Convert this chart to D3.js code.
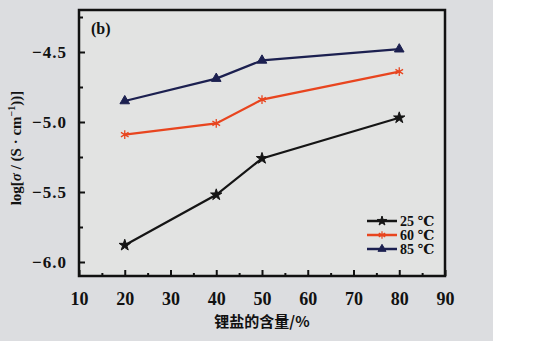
<!DOCTYPE html>
<html>
<head>
<meta charset="utf-8">
<script src="https://cdn.jsdelivr.net/npm/d3@7"></script>
<style>
	body { margin: 0; background: #fff; }
	text { font-family: "Liberation Serif", "DejaVu Serif", serif; font-weight: bold; fill: #111; }
	.cjk { font-family: "Noto Sans CJK SC", sans-serif; font-weight: bold; }
</style>
</head>
<body>
<div id="chart"></div>
<script>
const contents = [20, 40, 50, 80];
const temps = ["25 ℃", "60 ℃", "85 ℃"];
const cond25 = [-5.88, -5.52, -5.26, -4.97];
const cond60 = [-5.09, -5.01, -4.84, -4.64];
const cond85 = [-4.85, -4.69, -4.56, -4.48];
const xTicks = [10, 20, 30, 40, 50, 60, 70, 80, 90];
const yTicks = [-6.0, -5.5, -5.0, -4.5];

const width = 538, height = 360;
const svg = d3.select("#chart")
	.append("svg")
	.attr("width", width)
	.attr("height", height);

// scanned page background
svg.append("rect").attr("width", 493).attr("height", 341).attr("fill", "#dcdde0");

const x = d3.scaleLinear().domain([10, 90]).range([79, 445]);
const y = d3.scaleLinear().domain([-6.1, -4.2]).range([276, 10]);

svg.append("rect")
	.attr("x", 79).attr("y", 10)
	.attr("width", 366).attr("height", 266)
	.attr("fill", "#e2e3e2");

// axes with inward ticks
const xAxis = d3.axisBottom(x).tickValues(xTicks).tickSize(-6).tickPadding(16).tickFormat(d => d);
const xMinor = d3.axisBottom(x).tickValues(d3.range(15, 90, 10)).tickSize(-3).tickFormat("");
const yAxis = d3.axisLeft(y).tickValues(yTicks).tickSize(-6).tickPadding(12).tickFormat(d => d3.format(".1f")(d).replace("-", "−"));
const yMinor = d3.axisLeft(y).tickValues([-5.75, -5.25, -4.75, -4.25]).tickSize(-4).tickFormat("");

const gx = svg.append("g").attr("transform", "translate(0,276)").call(xAxis);
svg.append("g").attr("transform", "translate(0,276)").call(xMinor);
const gy = svg.append("g").attr("transform", "translate(79,0)").call(yAxis);
svg.append("g").attr("transform", "translate(79,0)").call(yMinor);

svg.selectAll(".domain").remove();
svg.selectAll(".tick line").attr("stroke", "#111").attr("stroke-width", 2);
gx.selectAll("text").attr("font-size", 18).attr("font-family", "Liberation Serif").attr("font-weight", "bold").attr("fill", "#111");
gy.selectAll("text").attr("font-size", 17).attr("font-family", "Liberation Serif").attr("font-weight", "bold").attr("fill", "#111").attr("letter-spacing", 1);

// frame
svg.append("rect")
	.attr("x", 79).attr("y", 10)
	.attr("width", 366).attr("height", 266)
	.attr("fill", "none").attr("stroke", "#111").attr("stroke-width", 2.5);

const series = [
	{name: temps[0], values: cond25, color: "#151515", symbol: d3.symbolStar, size: 40, fill: true},
	{name: temps[1], values: cond60, color: "#e8451f", symbol: d3.symbolAsterisk, size: 55, fill: false},
	{name: temps[2], values: cond85, color: "#1c2050", symbol: d3.symbolTriangle, size: 40, fill: true}
];

const line = d3.line().x(d => x(d[0])).y(d => y(d[1]));

series.forEach(s => {
	const pts = contents.map((c, i) => [c, s.values[i]]);
	svg.append("path")
		.attr("d", line(pts))
		.attr("fill", "none")
		.attr("stroke", s.color)
		.attr("stroke-width", 2.2);
	svg.selectAll(null)
		.data(pts)
		.enter()
		.append("path")
		.attr("transform", d => "translate(" + x(d[0]) + "," + y(d[1]) + ")")
		.attr("d", d3.symbol().type(s.symbol).size(s.size))
		.attr("fill", s.fill ? s.color : "none")
		.attr("stroke", s.color)
		.attr("stroke-width", s.fill ? 1 : 1.3);
});

// legend
series.forEach((s, i) => {
	const ly = 221 + i * 14;
	svg.append("line")
		.attr("x1", 367).attr("x2", 397)
		.attr("y1", ly).attr("y2", ly)
		.attr("stroke", s.color).attr("stroke-width", 2.5);
	svg.append("path")
		.attr("transform", "translate(382," + ly + ")")
		.attr("d", d3.symbol().type(s.symbol).size(s.size * 0.7))
		.attr("fill", s.fill ? s.color : "none")
		.attr("stroke", s.color)
		.attr("stroke-width", s.fill ? 1 : 1.2);
	svg.append("text")
		.attr("x", 400).attr("y", ly + 5)
		.attr("font-size", 14)
		.text(s.name);
});

svg.append("text")
	.attr("x", 91).attr("y", 34)
	.attr("font-size", 16)
	.text("(b)");

svg.append("text")
	.attr("class", "cjk")
	.attr("x", 262).attr("y", 327)
	.attr("text-anchor", "middle")
	.attr("font-size", 15)
	.attr("fill", "#222")
	.text("锂盐的含量/%");

const yt = svg.append("text")
	.attr("transform", "translate(21,148) rotate(-90)")
	.attr("text-anchor", "middle")
	.attr("font-size", 15);
yt.append("tspan").text("log[");
yt.append("tspan").attr("font-style", "italic").text("σ");
yt.append("tspan").text(" / (S · cm");
yt.append("tspan").attr("dy", -6).attr("font-size", 10).text("−1");
yt.append("tspan").attr("dy", 6).text("))]");
</script>
</body>
</html>
